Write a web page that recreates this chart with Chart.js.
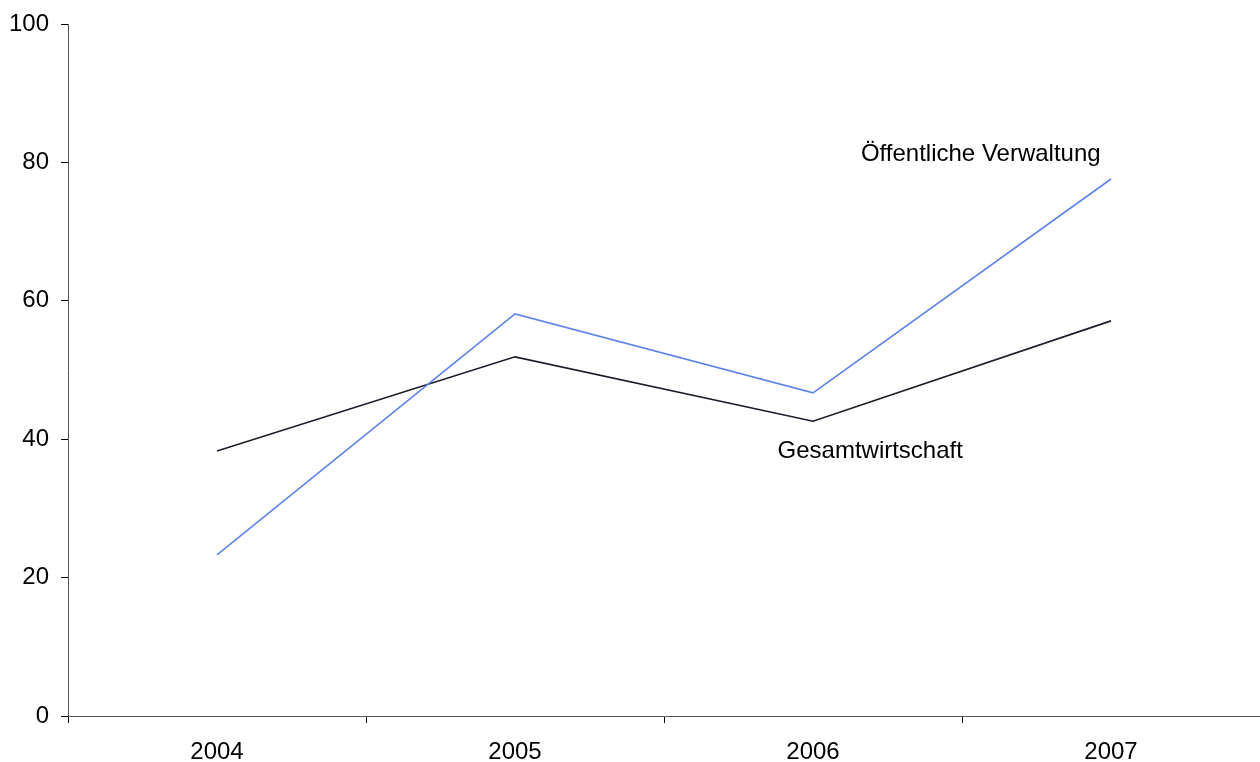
<!DOCTYPE html>
<html>
<head>
<meta charset="utf-8">
<script src="https://cdn.jsdelivr.net/npm/chart.js@4"></script>
<style>
  body { margin: 0; background: #fff; }
  #wrap { width: 1260px; height: 762px; }
</style>
</head>
<body>
<div id="wrap"><canvas id="lineChart" width="1260" height="762"></canvas></div>
<script>
const years = ['2004', '2005', '2006', '2007'];
const verwaltung = [23.3, 58.1, 46.7, 77.6];
const gesamt = [38.3, 51.9, 42.6, 57.1];
const yTicks = [0, 20, 40, 60, 80, 100];

// series labels drawn next to the lines
const seriesLabels = [
    { text: 'Öffentliche Verwaltung', x: 2.563, y: 81.1 },
    { text: 'Gesamtwirtschaft', x: 2.192, y: 38.3 }
];

const FONT = '"Liberation Sans", Arial, sans-serif';

const labelPlugin = {
    id: 'seriesLabels',
    afterDatasetsDraw(chart) {
        const ctx = chart.ctx;
        const xs = chart.scales.x;
        const ys = chart.scales.y;
        ctx.save();
        ctx.font = '24px ' + FONT;
        ctx.fillStyle = '#000';
        ctx.textAlign = 'center';
        ctx.textBaseline = 'middle';
        seriesLabels.forEach(l => {
            ctx.fillText(l.text, xs.getPixelForValue(l.x), ys.getPixelForValue(l.y));
        });
        ctx.restore();
    }
};

window.onload = () => {
    const ctx = document.getElementById('lineChart').getContext('2d');
    new Chart(ctx, {
        type: 'line',
        data: {
            labels: years,
            datasets: [
                {
                    label: 'Öffentliche Verwaltung',
                    data: verwaltung,
                    borderColor: '#5f84e8',
                    borderWidth: 1.6,
                    pointRadius: 0,
                    tension: 0
                },
                {
                    label: 'Gesamtwirtschaft',
                    data: gesamt,
                    borderColor: '#1c1c2a',
                    borderWidth: 1.6,
                    pointRadius: 0,
                    tension: 0
                }
            ]
        },
        options: {
            responsive: false,
            animation: false,
            layout: { padding: { top: 24, right: 0, left: 0, bottom: 0 } },
            plugins: {
                legend: { display: false },
                tooltip: { enabled: false }
            },
            scales: {
                x: {
                    offset: true,
                    grid: { offset: true, drawOnChartArea: false, tickLength: 7, color: '#000' },
                    border: { color: '#555', width: 1 },
                    ticks: {
                        color: '#000',
                        padding: 15,
                        maxRotation: 0,
                        font: { size: 24, family: FONT }
                    },
                    afterFit(scale) { scale.height = 46; }
                },
                y: {
                    min: 0,
                    max: 100,
                    afterBuildTicks(scale) { scale.ticks = yTicks.map(v => ({ value: v })); },
                    grid: { drawOnChartArea: false, tickLength: 7, color: '#000' },
                    border: { color: '#555', width: 1 },
                    ticks: {
                        color: '#000',
                        padding: 12,
                        font: { size: 24, family: FONT, lineHeight: 1 }
                    },
                    afterFit(scale) { scale.width = 68; }
                }
            }
        },
        plugins: [labelPlugin]
    });
};
</script>
</body>
</html>
